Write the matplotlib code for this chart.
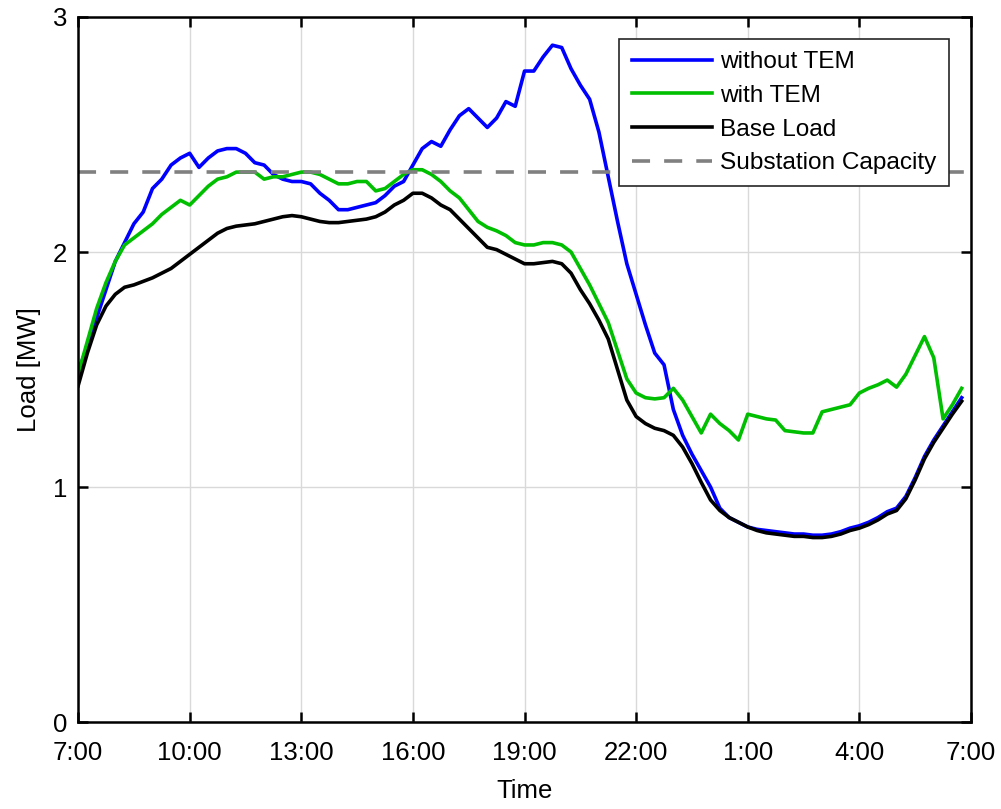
import numpy as np
import matplotlib
matplotlib.use("Agg")
import matplotlib.pyplot as plt

plt.rcParams["font.family"] = ["Liberation Sans", "DejaVu Sans"]

# 15-minute samples starting at 7:00 (96 points, last one at 6:45)
step_h = 0.25
without_tem = [
    1.49, 1.60, 1.72, 1.84, 1.96, 2.04, 2.12, 2.17, 2.27, 2.31, 2.37, 2.40,
    2.42, 2.36, 2.40, 2.43, 2.44, 2.44, 2.42, 2.38, 2.37, 2.33, 2.31, 2.30,
    2.30, 2.29, 2.25, 2.22, 2.18, 2.18, 2.19, 2.20, 2.21, 2.24, 2.28, 2.30,
    2.37, 2.44, 2.47, 2.45, 2.52, 2.58, 2.61, 2.57, 2.53, 2.57, 2.64, 2.62,
    2.77, 2.77, 2.83, 2.88, 2.87, 2.78, 2.71, 2.65, 2.51, 2.32, 2.13, 1.95,
    1.82, 1.69, 1.57, 1.52, 1.33, 1.22, 1.14, 1.07, 1.00, 0.91, 0.87, 0.85,
    0.83, 0.82, 0.815, 0.81, 0.805, 0.80, 0.80, 0.795, 0.795, 0.80, 0.81, 0.825,
    0.835, 0.85, 0.87, 0.895, 0.91, 0.96, 1.04, 1.13, 1.20, 1.26, 1.32, 1.38,
]
with_tem = [
    1.48, 1.62, 1.76, 1.87, 1.96, 2.03, 2.06, 2.09, 2.12, 2.16, 2.19, 2.22,
    2.20, 2.24, 2.28, 2.31, 2.32, 2.34, 2.34, 2.34, 2.31, 2.32, 2.32, 2.33,
    2.34, 2.34, 2.33, 2.31, 2.29, 2.29, 2.30, 2.30, 2.26, 2.27, 2.30, 2.33,
    2.35, 2.35, 2.33, 2.30, 2.26, 2.23, 2.18, 2.13, 2.105, 2.09, 2.07, 2.04,
    2.03, 2.03, 2.04, 2.04, 2.03, 2.00, 1.93, 1.86, 1.78, 1.70, 1.58, 1.46,
    1.40, 1.38, 1.375, 1.38, 1.42, 1.37, 1.30, 1.23, 1.31, 1.27, 1.24, 1.20,
    1.31, 1.30, 1.29, 1.285, 1.24, 1.235, 1.23, 1.23, 1.32, 1.33, 1.34, 1.35,
    1.40, 1.42, 1.435, 1.455, 1.425, 1.48, 1.56, 1.64, 1.55, 1.29, 1.35, 1.42,
]
base_load = [
    1.43, 1.57, 1.69, 1.77, 1.82, 1.85, 1.86, 1.875, 1.89, 1.91, 1.93, 1.96,
    1.99, 2.02, 2.05, 2.08, 2.10, 2.11, 2.115, 2.12, 2.13, 2.14, 2.15, 2.155,
    2.15, 2.14, 2.13, 2.125, 2.125, 2.13, 2.135, 2.14, 2.15, 2.17, 2.20, 2.22,
    2.25, 2.25, 2.23, 2.20, 2.18, 2.14, 2.10, 2.06, 2.02, 2.01, 1.99, 1.97,
    1.95, 1.95, 1.955, 1.96, 1.95, 1.91, 1.84, 1.78, 1.71, 1.63, 1.50, 1.37,
    1.30, 1.27, 1.25, 1.24, 1.22, 1.17, 1.10, 1.02, 0.945, 0.90, 0.87, 0.85,
    0.83, 0.815, 0.805, 0.80, 0.795, 0.79, 0.79, 0.785, 0.785, 0.79, 0.80, 0.815,
    0.825, 0.84, 0.86, 0.885, 0.90, 0.95, 1.03, 1.12, 1.19, 1.25, 1.31, 1.365,
]
capacity = 2.34

tick_hours = [7, 10, 13, 16, 19, 22, 25, 28, 31]
tick_labels = ["7:00", "10:00", "13:00", "16:00", "19:00", "22:00", "1:00", "4:00", "7:00"]

t = 7 + step_h * np.arange(len(base_load))

fig = plt.figure(figsize=(10.01, 8.09), dpi=100)
ax = fig.add_axes([0.078, 0.1075, 0.892, 0.8715])

ax.plot(t, without_tem, color=(0, 0, 1), lw=2.6, label="without TEM")
ax.plot(t, with_tem, color=(0, 0.75, 0), lw=2.6, label="with TEM")
ax.plot(t, base_load, color="black", lw=2.6, label="Base Load")
ax.axhline(capacity, color=(0.5, 0.5, 0.5), lw=2.6, ls=(0, (5, 3.9)),
           label="Substation Capacity")

ax.set_xlim(7, 31)
ax.set_ylim(0, 3)
ax.set_xticks(tick_hours)
ax.set_xticklabels(tick_labels)
ax.set_yticks([0, 1, 2, 3])
ax.grid(True, color=(0.85, 0.85, 0.85), lw=1.0)
ax.set_axisbelow(True)

for s in ax.spines.values():
    s.set_linewidth(1.8)
ax.tick_params(direction="in", length=7, width=1.8, labelsize=18.5,
               top=True, right=True)
ax.tick_params(axis="x", pad=14)
ax.tick_params(axis="y", pad=8)

ax.set_xlabel("Time", fontsize=18.5, labelpad=10)
ax.set_ylabel("Load [MW]", fontsize=18.5, labelpad=8)

leg = ax.legend(loc="upper right", fontsize=17.6, frameon=True, fancybox=False,
                edgecolor=(0.15, 0.15, 0.15), framealpha=1, handlelength=3.3,
                handletextpad=0.33, borderpad=0.5, labelspacing=0.47,
                borderaxespad=0.9)
leg.get_frame().set_linewidth(1.2)

fig.savefig("out.png", dpi=100)
